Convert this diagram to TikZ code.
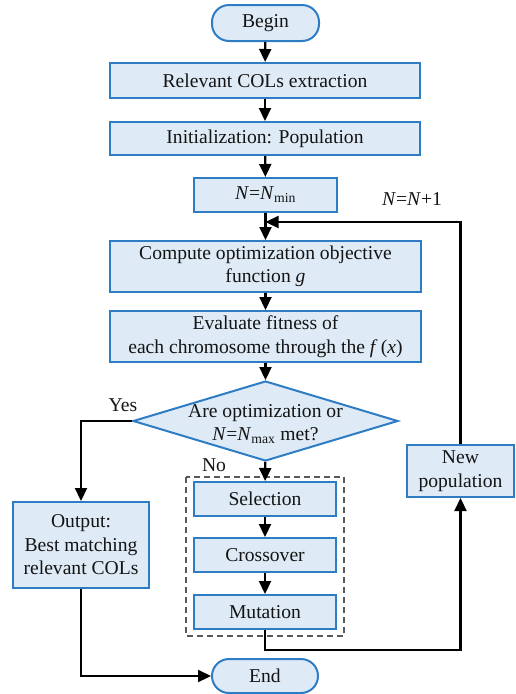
\documentclass[tikz,border=0pt]{standalone}
\usepackage{fontspec}
\setmainfont{Liberation Serif}
\usetikzlibrary{shapes.geometric,arrows.meta}
\definecolor{boxfill}{RGB}{222,234,246}
\definecolor{boxline}{RGB}{46,125,196}
\definecolor{txt}{RGB}{20,20,20}
\newcommand{\Nv}{\textit{N}}
\begin{document}
\begin{tikzpicture}[x=1pt,y=-1pt,
  every node/.style={text=txt,font=\fontsize{19.6}{23.5}\selectfont},
  box/.style={draw=boxline,fill=boxfill,line width=2pt,inner sep=0pt,align=center},
  term/.style={box,rounded corners=17pt},
  conn/.style={line width=2.2pt,-{Triangle[width=12pt,length=13pt]}},
  plain/.style={line width=2pt}]
\useasboundingbox (0,0) rectangle (516,694);
% dashed group
\draw[dash pattern=on 6pt off 4pt,line width=1.3pt,draw=black!65] (186,477) rectangle (344,636);
\node[term,minimum width=107pt,minimum height=36pt] (begin) at (265.5,23) {Begin};
\node[box,minimum width=310pt,minimum height=35pt] (rel) at (265,80.5) {Relevant COLs extraction};
\node[box,minimum width=310pt,minimum height=33pt] (init) at (265,138.5) {Initialization: Population};
\node[box,minimum width=143pt,minimum height=34pt] (nmin) at (265.5,195) {\Nv=\Nv\textsubscript{min}};
\node[box,minimum width=311pt,minimum height=51pt] (comp) at (265.5,266.5) {Compute optimization objective\\function \textit{g}};
\node[box,minimum width=311pt,minimum height=51pt] (eval) at (265.5,336.5) {Evaluate fitness of\\each chromosome through the \textit{f}\,(\textit{x})};
\node[box,shape=diamond,aspect=3.3,minimum width=265pt,minimum height=80pt] (dec) at (265.5,421) {};
\node[align=center] (dect) at (265.5,424) {Are optimization or\\\Nv=\Nv\textsubscript{max} met?};
\node[box,minimum width=142pt,minimum height=34pt] (sel) at (265,499) {Selection};
\node[box,minimum width=142pt,minimum height=34pt] (cross) at (265,555) {Crossover};
\node[box,minimum width=142pt,minimum height=34pt] (mut) at (265,612) {Mutation};
\node[box,minimum width=107pt,minimum height=52pt] (newpop) at (460.5,471) {New\\population};
\node[box,minimum width=136pt,minimum height=86pt] (out) at (81,545) {Output:\\Best matching\\relevant COLs};
\node[term,minimum width=106pt,minimum height=34pt] (end) at (265,676) {End};
\node (yes) at (123,405) {Yes};
\node (no) at (214,465) {No};
\node (inc) at (412,199) {\Nv=\Nv+1};
\coordinate (join) at (265.5,222);
\coordinate (loopc) at (460.5,222);
\coordinate (yesc) at (81,421);
\coordinate (endc) at (81,676);
\coordinate (mutc) at (265,650);
\coordinate (npc) at (460.5,650);
% connectors
\draw[conn] (begin) -- (rel);
\draw[conn] (rel) -- (init);
\draw[conn] (init) -- (nmin);
\draw[conn] (nmin) -- (comp);
\draw[conn] (comp) -- (eval);
\draw[conn] (eval) -- (dec);
\draw[conn] (dec) -- (sel);
\draw[conn] (sel) -- (cross);
\draw[conn] (cross) -- (mut);
\draw[conn] (mut.south) -- (mutc) -- (npc) -- (newpop.south);
\draw[conn] (newpop.north) -- (loopc) -- (join);
\draw[conn] (dec.west) -- (yesc) -- (out.north);
\draw[conn] (out.south) -- (endc) -- (end.west);
\end{tikzpicture}
\end{document}
